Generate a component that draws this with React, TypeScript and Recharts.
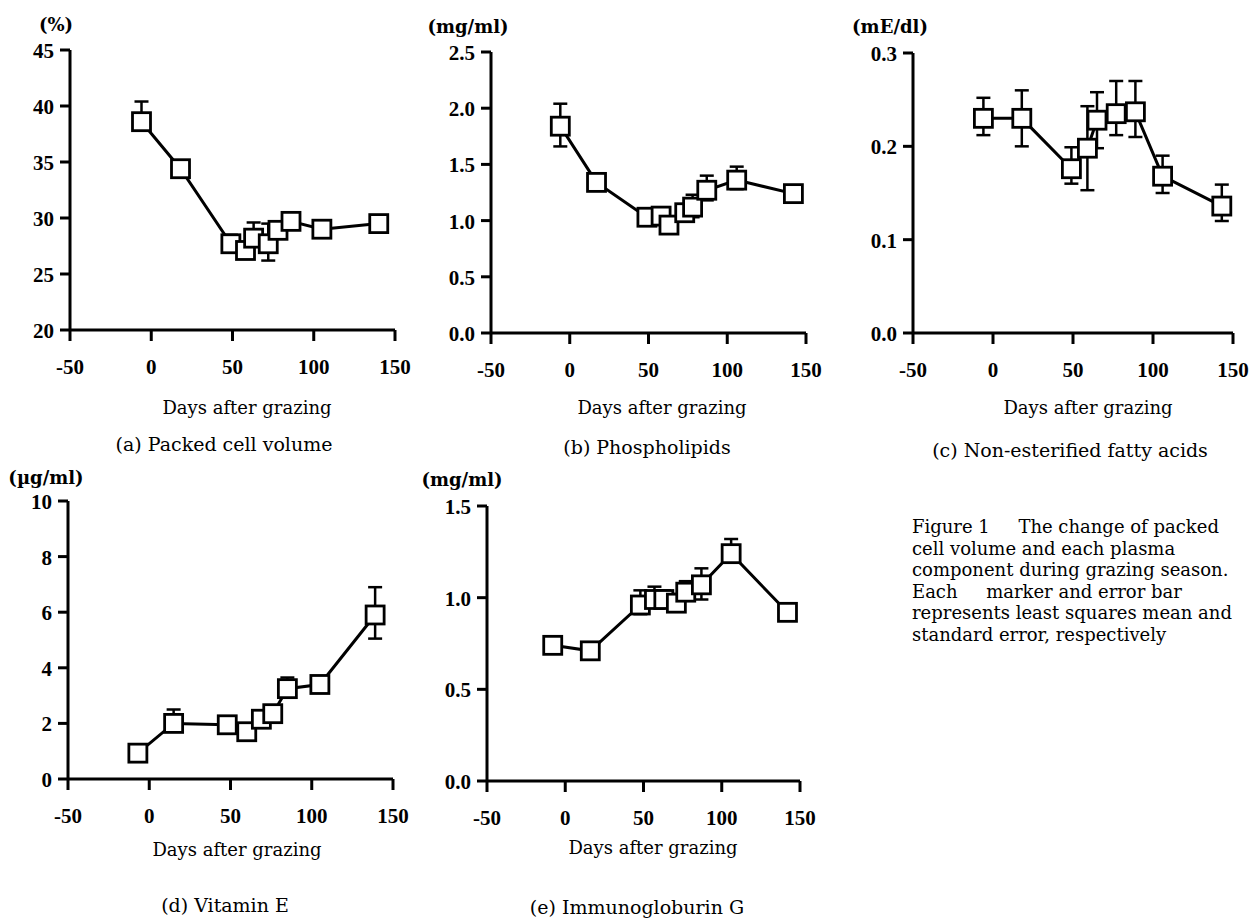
import { LineChart, Line, XAxis, YAxis, ErrorBar } from 'recharts';

const TICK_FONT = '"Liberation Serif", "Times New Roman", serif';
const TEXT_FONT = '"DejaVu Serif", serif';
const DAY_TICKS = [-50, 0, 50, 100, 150];

// (a) Packed cell volume (%)
const pcvDays = [-6, 18, 49, 58, 63, 72, 78, 86, 105, 140];
const pcvMean = [38.6, 34.4, 27.7, 27.1, 28.2, 27.7, 28.9, 29.7, 29.0, 29.5];
const pcvErrLo = [0.4, 0.5, 0.5, 0.5, 0.6, 1.5, 0.5, 0.5, 0.4, 0.6];
const pcvErrHi = [1.8, 0.5, 0.8, 0.5, 1.4, 1.8, 0.5, 0.5, 0.4, 0.7];
const pcvTicks = [20, 25, 30, 35, 40, 45];

// (b) Phospholipids (mg/ml)
const plDays = [-6, 17, 49, 58, 63, 73, 78, 87, 106, 142];
const plMean = [1.84, 1.34, 1.03, 1.04, 0.96, 1.07, 1.12, 1.27, 1.36, 1.24];
const plErrLo = [0.18, 0.06, 0.04, 0.04, 0.04, 0.06, 0.09, 0.09, 0.08, 0.03];
const plErrHi = [0.2, 0.08, 0.04, 0.04, 0.04, 0.06, 0.11, 0.13, 0.12, 0.03];
const plTicks = [0, 0.5, 1.0, 1.5, 2.0, 2.5];

// (c) Non-esterified fatty acids (mE/dl)
const nefaDays = [-6, 18, 49, 59, 65, 77, 89, 106, 143];
const nefaMean = [0.23, 0.23, 0.176, 0.198, 0.228, 0.235, 0.237, 0.168, 0.136];
const nefaErrLo = [0.018, 0.03, 0.016, 0.045, 0.03, 0.023, 0.027, 0.018, 0.016];
const nefaErrHi = [0.022, 0.03, 0.023, 0.045, 0.03, 0.035, 0.033, 0.022, 0.023];
const nefaTicks = [0, 0.1, 0.2, 0.3];

// (d) Vitamin E (ug/ml)
const veDays = [-7, 15, 48, 60, 69, 76, 85, 105, 139];
const veMean = [0.93, 2.0, 1.95, 1.7, 2.15, 2.35, 3.25, 3.4, 5.9];
const veErrLo = [0.1, 0.3, 0.1, 0.15, 0.15, 0.2, 0.3, 0.15, 0.85];
const veErrHi = [0.1, 0.5, 0.1, 0.15, 0.15, 0.2, 0.4, 0.15, 1.0];
const veTicks = [0, 2, 4, 6, 8, 10];

// (e) Immunoglobulin G (mg/ml)
const iggDays = [-8, 16, 48, 57, 63, 71, 77, 87, 106, 142];
const iggMean = [0.74, 0.71, 0.96, 0.99, 0.99, 0.97, 1.03, 1.07, 1.24, 0.92];
const iggErrLo = [0.02, 0.02, 0.05, 0.04, 0.04, 0.04, 0.04, 0.08, 0.04, 0.02];
const iggErrHi = [0.02, 0.02, 0.08, 0.07, 0.05, 0.05, 0.06, 0.09, 0.08, 0.02];
const iggTicks = [0, 0.5, 1.0, 1.5];

const captionLines = [
  'Figure 1     The change of packed',
  'cell volume and each plasma',
  'component during grazing season.',
  'Each     marker and error bar',
  'represents least squares mean and',
  'standard error, respectively',
];

const rows = (days: number[], mean: number[], lo: number[], hi: number[]) =>
  days.map((d, i) => ({ day: d, mean: mean[i], err: [lo[i], hi[i]] }));

const panels = [
  { id: 'a', data: rows(pcvDays, pcvMean, pcvErrLo, pcvErrHi), ticks: pcvTicks, dec: 0,
    unit: '(%)', title: '(a) Packed cell volume',
    box: { l: 70, t: 50, r: 395, b: 330 }, unitPos: [56, 25], xlabPos: [247, 408], titlePos: [224, 444] },
  { id: 'b', data: rows(plDays, plMean, plErrLo, plErrHi), ticks: plTicks, dec: 1,
    unit: '(mg/ml)', title: '(b) Phospholipids',
    box: { l: 491, t: 52, r: 806, b: 333 }, unitPos: [468, 27], xlabPos: [662, 408], titlePos: [647, 447] },
  { id: 'c', data: rows(nefaDays, nefaMean, nefaErrLo, nefaErrHi), ticks: nefaTicks, dec: 1,
    unit: '(mE/dl)', title: '(c) Non-esterified fatty acids',
    box: { l: 913, t: 53, r: 1233, b: 333 }, unitPos: [890, 27], xlabPos: [1088, 408], titlePos: [1070, 450] },
  { id: 'd', data: rows(veDays, veMean, veErrLo, veErrHi), ticks: veTicks, dec: 0,
    unit: '(\u00b5g/ml)', title: '(d) Vitamin E',
    box: { l: 68, t: 501, r: 393, b: 779 }, unitPos: [46, 478], xlabPos: [237, 850], titlePos: [225, 905] },
  { id: 'e', data: rows(iggDays, iggMean, iggErrLo, iggErrHi), ticks: iggTicks, dec: 1,
    unit: '(mg/ml)', title: '(e) Immunogloburin G',
    box: { l: 487, t: 506, r: 800, b: 781 }, unitPos: [462, 480], xlabPos: [653, 848], titlePos: [637, 907] },
];

const YW = 50;
const MT = 15;
const MR = 25;
const XH = 64;

const axisLine = { stroke: '#000', strokeWidth: 3 };

// custom tick text so font settings are applied reliably
function XTick(props: any) {
  const { x, y, payload } = props;
  return (
    <text x={x} y={y + 31} textAnchor="middle" fontFamily={TICK_FONT} fontSize={21} fontWeight="bold" fill="#000">
      {payload.value}
    </text>
  );
}

function makeYTick(dec: number) {
  return function YTick(props: any) {
    const { x, y, payload } = props;
    return (
      <text x={x - 4} y={y + 8} textAnchor="end" fontFamily={TICK_FONT} fontSize={21} fontWeight="bold" fill="#000">
        {Number(payload.value).toFixed(dec)}
      </text>
    );
  };
}

function Square(props: any) {
  const { cx, cy } = props;
  if (cx == null || cy == null) return null;
  return <rect x={cx - 9} y={cy - 9} width={18} height={18} fill="#fff" stroke="#000" strokeWidth={2.8} />;
}

function Txt({ x, y, size = 18, bold = false, children }: { x: number; y: number; size?: number; bold?: boolean; children: any }) {
  return (
    <div style={{
      position: 'absolute', left: x, top: y - size * 0.6, transform: 'translateX(-50%)',
      whiteSpace: 'pre', fontFamily: TEXT_FONT, fontSize: size, lineHeight: 1.2, color: '#000',
      fontWeight: bold ? 'bold' : 'normal',
    }}>{children}</div>
  );
}

function Panel({ p }: { p: typeof panels[number] }) {
  const { l, t, r, b } = p.box;
  const w = r - l + YW + MR;
  const h = b - t + MT + XH;
  const ymin = p.ticks[0];
  const ymax = p.ticks[p.ticks.length - 1];
  return (
    <>
      <div style={{ position: 'absolute', left: l - YW, top: t - MT }}>
        <LineChart width={w} height={h} data={p.data} margin={{ top: MT, right: MR, left: 0, bottom: 0 }}>
          <XAxis type="number" dataKey="day" domain={[-50, 150]} ticks={DAY_TICKS} height={XH}
            axisLine={axisLine} tickLine={axisLine} tickSize={11} tickMargin={2} tick={<XTick />} interval={0} />
          <YAxis type="number" domain={[ymin, ymax]} ticks={p.ticks} width={YW}
            axisLine={axisLine} tickLine={axisLine} tickSize={10} tickMargin={2} tick={makeYTick(p.dec)} interval={0} />
          <Line type="linear" dataKey="mean" stroke="#000" strokeWidth={3} isAnimationActive={false}
            dot={(dp: any) => <Square key={`${p.id}-${dp.index}`} {...dp} />}>
            <ErrorBar dataKey="err" direction="y" width={7} stroke="#000" strokeWidth={2.5} />
          </Line>
        </LineChart>
      </div>
      <Txt x={p.unitPos[0]} y={p.unitPos[1]} bold>{p.unit}</Txt>
      <Txt x={p.xlabPos[0]} y={p.xlabPos[1]} size={18}>Days after grazing</Txt>
      <Txt x={p.titlePos[0]} y={p.titlePos[1]} size={19}>{p.title}</Txt>
    </>
  );
}

export default function App() {
  return (
    <div style={{ position: 'absolute', left: 0, top: 0, width: 1255, height: 918, background: '#fff' }}>
      {panels.map((p) => <Panel key={p.id} p={p} />)}
      <div style={{
        position: 'absolute', left: 912, top: 516, fontFamily: TEXT_FONT, fontSize: 18,
        lineHeight: '21.5px', color: '#000', whiteSpace: 'pre',
      }}>
        {captionLines.map((line, i) => <div key={i}>{line}</div>)}
      </div>
    </div>
  );
}
